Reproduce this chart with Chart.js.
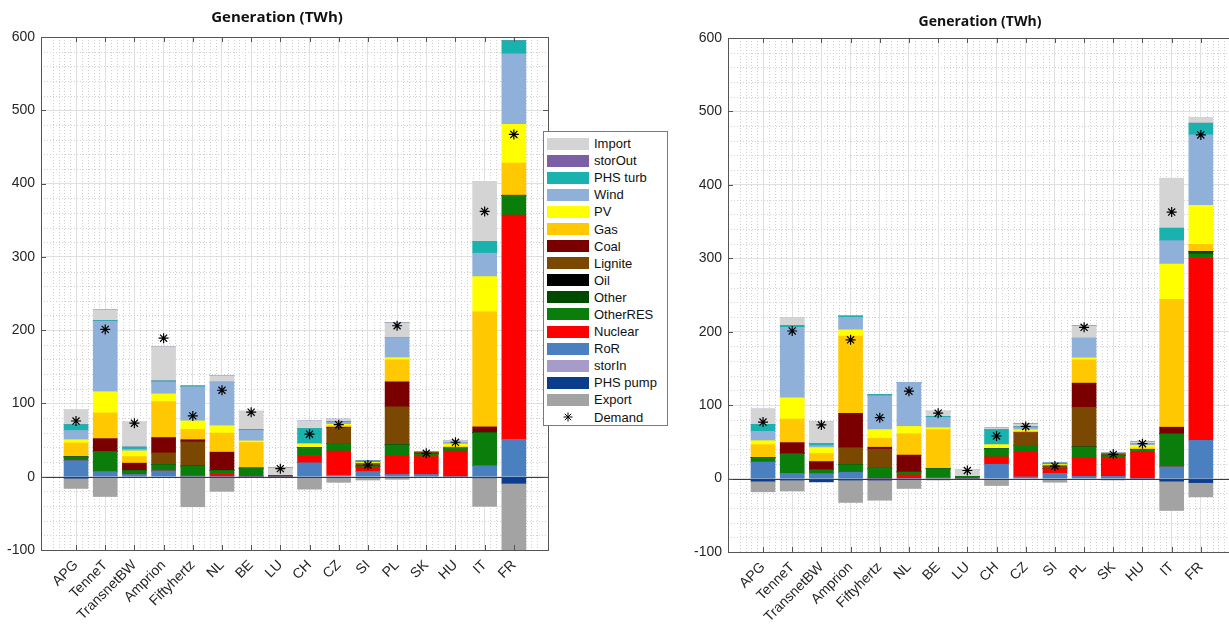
<!DOCTYPE html>
<html>
<head>
<meta charset="utf-8">
<script src="https://cdn.jsdelivr.net/npm/chart.js@4.4.0/dist/chart.umd.min.js"></script>
<style>
  body { margin: 0; width: 1229px; height: 624px; overflow: hidden; background: #fff; position: relative; font-family: "Liberation Sans", Arial, sans-serif; }
  canvas { position: absolute; top: 0; }
  #genLeft { left: 0; }
  #genRight { left: 687px; }
  .title { position: absolute; font-family: "Open Sans", sans-serif; font-weight: bold; color: #111; text-align: center; white-space: nowrap; }
  #titleLeft { left: 177px; width: 200px; top: 6px; font-size: 15px; }
  #titleRight { left: 880px; width: 200px; top: 11px; font-size: 14px; }
  #legend { position: absolute; left: 543px; top: 131px; width: 125px; height: 295px; border: 1px solid #7a7a7a; background: #fff; padding-top: 3px; box-sizing: border-box; }
  .row { height: 17.1px; display: flex; align-items: center; font-size: 13px; color: #111; }
  .sw { width: 42px; height: 12px; margin-left: 3px; margin-right: 5px; flex: none; }
</style>
</head>
<body>
<canvas id="genLeft" width="556" height="624"></canvas>
<canvas id="genRight" width="556" height="624"></canvas>
<div class="title" id="titleLeft">Generation (TWh)</div>
<div class="title" id="titleRight">Generation (TWh)</div>
<div id="legend"></div>
<script>
// Regions (bar categories)
const regions = ['APG', 'TenneT', 'TransnetBW', 'Amprion', 'Fiftyhertz', 'NL', 'BE', 'LU', 'CH', 'CZ', 'SI', 'PL', 'SK', 'HU', 'IT', 'FR'];
const yTicks = [-100, 0, 100, 200, 300, 400, 500, 600];

// Left scenario (TWh)
const leftRoR      = [22, 7, 3, 8, 1, 0, 0, 0, 19, 2, 7, 3, 3, 0, 15, 51];
const leftNuclear  = [0, 0, 0, 0, 0, 4.5, 0, 0, 10, 33, 6, 25, 24.5, 35, 0, 306];
const leftOtherRES = [5, 27.5, 5.5, 8.5, 13.5, 4, 11.7, 1, 10.5, 10.5, 1.5, 15.5, 4, 4, 45, 27];
const leftOther    = [0, 0, 0, 0, 0, 0, 0, 0, 0, 0, 0, 0, 0, 0, 0, 0];
const leftOil      = [0, 0, 0, 0, 0, 0, 0, 0, 0, 0, 0, 0, 0, 0, 0, 0];
const leftLignite  = [0, 0, 0, 16, 33, 0, 0, 0, 0, 21, 3, 52, 2, 0, 0, 0];
const leftCoal     = [0, 17.5, 10, 21, 3, 25, 0, 0, 0, 1, 0, 34, 0, 0, 8, 0];
const leftGas      = [19, 35, 9, 49, 14, 26, 35, 0, 0, 2, 1, 30, 0, 2, 157, 44];
const leftPV       = [4.5, 29, 7.7, 10.5, 11.7, 10, 2.2, 0, 5.4, 2, 1, 3, 0, 3.5, 48, 53];
const leftWind     = [12.6, 96, 2.3, 16.3, 46.5, 59.5, 14.4, 0, 0, 3, 0, 27.5, 0, 2.5, 32, 96];
const leftPHSturb  = [8, 1, 3, 1.4, 1, 0, 1, 0, 21, 1, 2, 0, 0, 0, 16, 18];
const leftStorOut  = [0, 0, 0, 0, 0, 0, 0, 0, 0, 0, 0, 0, 0, 0, 0, 0];
const leftImport   = [20, 14.5, 34, 47, 0, 9, 25, 11, 10, 3, 0, 20, 1, 2.5, 82, 0];
const leftPHSpump  = [-2, 0, -1, 0, 0, 0, 0, 0, 0, 0, 0, 0, 0, 0, -1.5, -9];
const leftStorIn   = [0, 0, 0, 0, 0, 0, 0, 0, 0, 0, 0, 0, 0, 0, 0, 0];
const leftExport   = [-14, -27, 0, 0, -41, -20, 0, 0, -17, -7.7, -4.5, -3.6, -1, 0, -39, -96];
const leftDemand   = [76, 201, 73, 189, 83, 118, 88, 11, 58, 71, 16, 206, 32, 47, 362, 467];

// Right scenario (TWh)
const rightRoR      = [22.6, 7, 6.8, 8.6, 0, 0, 1, 0, 19.5, 2.3, 7, 3, 3, 0, 16, 52];
const rightNuclear  = [0, 0, 0, 0, 0, 5, 0, 0, 10, 34, 6.5, 25, 24.5, 35.7, 0, 249];
const rightOtherRES = [6, 27, 5.4, 10.4, 14, 4, 12.6, 3, 11.3, 9, 0, 15, 4, 4, 45, 5];
const rightOther    = [0, 0, 0, 0, 0, 0, 0, 0, 0, 0, 0, 0, 0, 0, 0, 3];
const rightOil      = [0, 0, 0, 0, 0, 0, 0, 0, 0, 0, 0, 0, 0, 0, 0, 0];
const rightLignite  = [0, 0, 0, 23, 26, 0, 0, 0, 0, 16.7, 3.6, 54, 2, 0, 0, 0];
const rightCoal     = [0, 15, 11, 47, 2.7, 23, 0, 0, 0, 0.5, 0, 33, 0, 0, 9, 0];
const rightGas      = [17.6, 32, 11, 105, 12, 29, 53, 0, 0, 2, 1, 31.7, 0, 2, 174, 10];
const rightPV       = [5.4, 29, 8, 8.6, 12, 10, 2.7, 0, 5.4, 2, 1, 2.7, 0, 3.5, 48, 53];
const rightWind     = [12.7, 96, 2.7, 17, 46, 60, 14, 0, 0, 3, 0, 26.7, 0, 2.3, 32, 96];
const rightPHSturb  = [9.5, 2.3, 2.7, 1.8, 1.8, 0, 1.4, 0, 20.4, 1, 2, 0, 0, 0, 17, 16];
const rightStorOut  = [0, 0, 0, 0, 0, 0, 0, 0, 0, 0, 0, 0, 0, 0, 0, 0];
const rightImport   = [21, 10.5, 30, 0, 0, 0, 7, 9.5, 2.3, 4, 0, 17, 1.7, 2.7, 68, 8];
const rightPHSpump  = [-3.5, -2, -4.5, -2, -2, 0, 0, 0, 0, 0, 0, 0, 0, 0, -3.5, -5.5];
const rightStorIn   = [0, 0, 0, 0, 0, 0, 0, 0, 0, 0, 0, 0, 0, 0, 0, 0];
const rightExport   = [-14.5, -15, 0, -30.5, -27.5, -13.5, -2, 0, -9.5, 0, -5, 0, -2, -1.5, -40, -19.5];
const rightDemand   = [77, 201, 73, 189, 83, 119, 89, 11, 58, 71, 17, 206, 33, 47.5, 363, 468];

// legend order (top to bottom) and stacking order (bottom up, then negatives from zero down)
const legendOrder = ['Import', 'storOut', 'PHS turb', 'Wind', 'PV', 'Gas', 'Coal', 'Lignite', 'Oil', 'Other', 'OtherRES', 'Nuclear', 'RoR', 'storIn', 'PHS pump', 'Export'];
const stackOrder = ['RoR', 'Nuclear', 'OtherRES', 'Other', 'Oil', 'Lignite', 'Coal', 'Gas', 'PV', 'Wind', 'PHS turb', 'storOut', 'Import', 'PHS pump', 'storIn', 'Export'];

const seriesColors = {
    'Import': '#d4d4d4', 'storOut': '#7d5fa6', 'PHS turb': '#19b2ae', 'Wind': '#8fb0d9',
    'PV': '#ffff00', 'Gas': '#ffc800', 'Coal': '#7a0000', 'Lignite': '#7a4800',
    'Oil': '#000000', 'Other': '#004a00', 'OtherRES': '#0a7d0a', 'Nuclear': '#ff0000',
    'RoR': '#4a7fc0', 'storIn': '#a79bc9', 'PHS pump': '#0c3c8c', 'Export': '#a3a3a3'
};

const leftSeries = {
    'RoR': leftRoR, 'Nuclear': leftNuclear, 'OtherRES': leftOtherRES, 'Other': leftOther, 'Oil': leftOil,
    'Lignite': leftLignite, 'Coal': leftCoal, 'Gas': leftGas, 'PV': leftPV, 'Wind': leftWind,
    'PHS turb': leftPHSturb, 'storOut': leftStorOut, 'Import': leftImport,
    'PHS pump': leftPHSpump, 'storIn': leftStorIn, 'Export': leftExport
};
const rightSeries = {
    'RoR': rightRoR, 'Nuclear': rightNuclear, 'OtherRES': rightOtherRES, 'Other': rightOther, 'Oil': rightOil,
    'Lignite': rightLignite, 'Coal': rightCoal, 'Gas': rightGas, 'PV': rightPV, 'Wind': rightWind,
    'PHS turb': rightPHSturb, 'storOut': rightStorOut, 'Import': rightImport,
    'PHS pump': rightPHSpump, 'storIn': rightStorIn, 'Export': rightExport
};

const AXIS_COLOR = '#555555';

// minor dotted grid, zero baseline, box and inward ticks (MATLAB look)
const matlabAxes = {
    id: 'matlabAxes',
    beforeDatasetsDraw(chart) {
        const { ctx, chartArea: a, scales: { x, y } } = chart;
        ctx.save();
        ctx.strokeStyle = '#d2d2d2';
        ctx.lineWidth = 1;
        ctx.setLineDash([1, 2]);
        ctx.beginPath();
        for (let v = -100; v <= 600; v += 20) {
            if (v % 100 === 0) continue;
            const py = Math.round(y.getPixelForValue(v)) + 0.5;
            ctx.moveTo(a.left, py);
            ctx.lineTo(a.right, py);
        }
        for (let k = -1; k <= 86; k++) {
            if (k % 5 === 0) continue;
            const px = Math.round(x.getPixelForValue(k * 0.2)) + 0.5;
            if (px <= a.left || px >= a.right) continue;
            ctx.moveTo(px, a.top);
            ctx.lineTo(px, a.bottom);
        }
        ctx.stroke();
        ctx.restore();
    },
    afterDatasetsDraw(chart) {
        const { ctx, chartArea: a, scales: { y } } = chart;
        const y0 = Math.round(y.getPixelForValue(0)) + 0.5;
        ctx.save();
        ctx.strokeStyle = '#3c3c3c';
        ctx.lineWidth = 1;
        ctx.beginPath();
        ctx.moveTo(a.left, y0);
        ctx.lineTo(a.right, y0);
        ctx.stroke();
        ctx.restore();
    },
    afterDraw(chart) {
        const { ctx, chartArea: a, scales: { x, y } } = chart;
        ctx.save();
        ctx.strokeStyle = AXIS_COLOR;
        ctx.lineWidth = 1;
        ctx.strokeRect(Math.round(a.left) + 0.5, Math.round(a.top) + 0.5, Math.round(a.right - a.left), Math.round(a.bottom - a.top));
        ctx.beginPath();
        regions.forEach((r, i) => {
            const px = Math.round(x.getPixelForValue(i + 1)) + 0.5;
            ctx.moveTo(px, a.top); ctx.lineTo(px, a.top + 5);
            ctx.moveTo(px, a.bottom); ctx.lineTo(px, a.bottom - 5);
        });
        yTicks.forEach(v => {
            const py = Math.round(y.getPixelForValue(v)) + 0.5;
            ctx.moveTo(a.left, py); ctx.lineTo(a.left + 5, py);
            ctx.moveTo(a.right, py); ctx.lineTo(a.right - 5, py);
        });
        ctx.stroke();
        ctx.restore();
    }
};

function buildDatasets(series, demand) {
    const sets = stackOrder.map(name => ({
        label: name,
        data: series[name].map((v, i) => ({ x: i + 1, y: v })),
        backgroundColor: seriesColors[name],
        borderWidth: 0,
        barThickness: 24,
        order: 1
    }));
    sets.push({
        type: 'line',
        label: 'Demand',
        data: demand.map((v, i) => ({ x: i + 1, y: v })),
        showLine: false,
        pointStyle: 'star',
        pointRadius: 5,
        pointBorderWidth: 1.2,
        pointBorderColor: '#000',
        borderColor: '#000',
        order: 0
    });
    return sets;
}

function makeChart(canvasId, series, demand, top, axisHeight) {
    return new Chart(document.getElementById(canvasId), {
        type: 'bar',
        data: { datasets: buildDatasets(series, demand) },
        options: {
            responsive: false,
            animation: false,
            devicePixelRatio: 1,
            layout: { padding: { top: top, right: 8, left: 0, bottom: 0 } },
            plugins: { legend: { display: false }, tooltip: { enabled: false }, title: { display: false } },
            scales: {
                x: {
                    type: 'linear',
                    min: -0.2,
                    max: 17.17,
                    stacked: true,
                    offset: false,
                    afterBuildTicks: s => { s.ticks = regions.map((r, i) => ({ value: i + 1 })); },
                    afterFit: s => { s.height = axisHeight; },
                    grid: { color: '#e0e0e0', drawTicks: false, offset: false },
                    border: { display: false },
                    ticks: {
                        autoSkip: false,
                        minRotation: 45,
                        maxRotation: 45,
                        padding: 7,
                        color: '#262626',
                        font: { family: 'Liberation Sans', size: 14 },
                        callback: v => regions[Math.round(v) - 1] || ''
                    }
                },
                y: {
                    min: -100,
                    max: 600,
                    stacked: true,
                    afterBuildTicks: s => { s.ticks = yTicks.map(v => ({ value: v })); },
                    afterFit: s => { s.width = 41; },
                    grid: { color: '#e0e0e0', drawTicks: false },
                    border: { display: false },
                    ticks: {
                        padding: 6,
                        color: '#262626',
                        font: { family: 'Liberation Sans', size: 14 }
                    }
                }
            }
        },
        plugins: [matlabAxes]
    });
}

makeChart('genLeft', leftSeries, leftDemand, 37, 74);
makeChart('genRight', rightSeries, rightDemand, 38, 72);

// legend for the left panel
const legendBox = document.getElementById('legend');
legendOrder.forEach(name => {
    const row = document.createElement('div');
    row.className = 'row';
    row.innerHTML = '<span class="sw" style="background:' + seriesColors[name] + '"></span><span>' + name + '</span>';
    legendBox.appendChild(row);
});
const demandRow = document.createElement('div');
demandRow.className = 'row';
demandRow.innerHTML = '<span class="sw" style="display:flex;justify-content:center;align-items:center">' +
    '<svg width="10" height="10" viewBox="-5 -5 10 10"><g stroke="#000" stroke-width="1">' +
    '<line x1="0" y1="-4.5" x2="0" y2="4.5"/><line x1="-4.5" y1="0" x2="4.5" y2="0"/>' +
    '<line x1="-3.2" y1="-3.2" x2="3.2" y2="3.2"/><line x1="-3.2" y1="3.2" x2="3.2" y2="-3.2"/></g></svg>' +
    '</span><span>Demand</span>';
legendBox.appendChild(demandRow);
</script>
</body>
</html>
